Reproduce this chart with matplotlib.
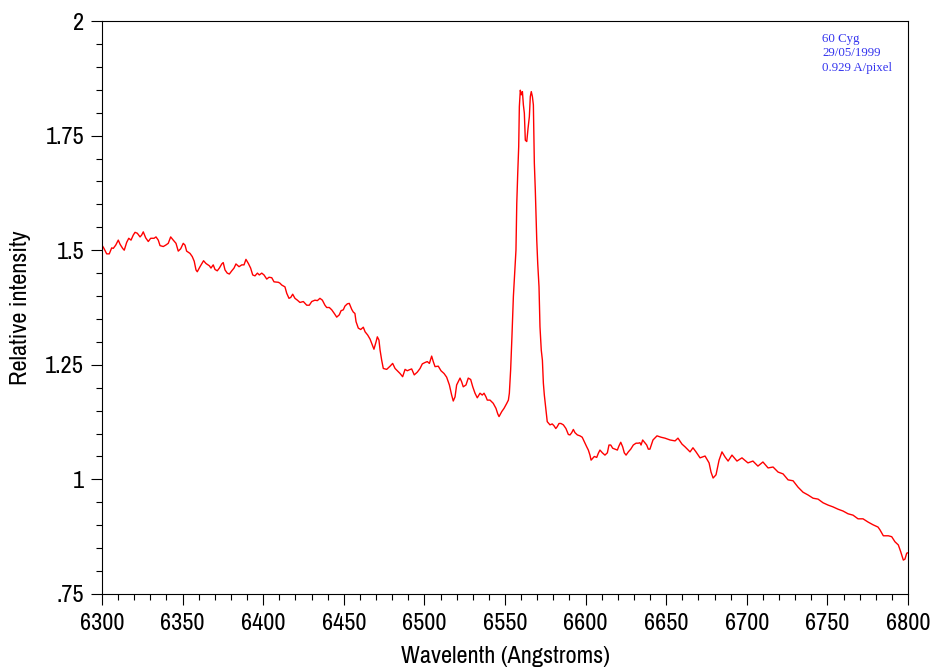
import matplotlib
matplotlib.use("Agg")
import matplotlib.pyplot as plt
from matplotlib import font_manager
from matplotlib.font_manager import FontProperties
from matplotlib.ticker import MultipleLocator

# narrow sans for the axis texts, if the system has one
narrow = None
for f in font_manager.fontManager.ttflist:
    if "Narrow" in f.name and f.style == "normal" and f.weight in (400, "normal"):
        narrow = f.fname
        break
if narrow is None:
    for f in font_manager.fontManager.ttflist:
        if f.stretch in ("condensed", "semi-condensed") and "Sans" in f.name \
                and f.style == "normal" and f.weight in (400, "normal"):
            narrow = f.fname
            break


def sans(size):
    if narrow:
        return FontProperties(fname=narrow, size=size)
    return FontProperties(family="Liberation Sans", size=size - 2)


# ---- spectrum (wavelength in A, relative intensity)
wavelength = [
    6300.0, 6301.2, 6302.9, 6304.5, 6306.0, 6307.0, 6308.5, 6310.1, 6311.2, 6312.8,
    6313.8, 6315.3, 6316.6, 6318.0, 6319.4, 6320.5, 6321.9, 6323.6, 6324.6, 6325.6,
    6327.1, 6328.7, 6330.2, 6332.3, 6333.5, 6334.9, 6336.0, 6338.0, 6339.5, 6341.1,
    6342.6, 6344.2, 6345.9, 6347.3, 6348.8, 6350.4, 6351.5, 6352.5, 6354.6, 6356.0,
    6357.2, 6358.3, 6359.1, 6360.8, 6363.0, 6364.5, 6366.6, 6367.6, 6369.0, 6370.1,
    6371.5, 6372.8, 6374.3, 6375.2, 6376.3, 6377.7, 6379.0, 6380.5, 6381.9, 6383.1,
    6385.0, 6386.7, 6388.1, 6389.3, 6390.8, 6392.2, 6393.5, 6394.9, 6396.4, 6397.6,
    6399.1, 6400.5, 6402.2, 6403.6, 6405.3, 6406.7, 6409.4, 6410.4, 6411.5, 6413.5,
    6414.6, 6416.0, 6417.1, 6418.3, 6419.7, 6421.2, 6422.8, 6424.9, 6427.0, 6428.6,
    6430.1, 6432.1, 6433.6, 6435.2, 6436.7, 6438.3, 6439.4, 6441.0, 6442.5, 6444.1,
    6445.6, 6447.2, 6448.3, 6449.7, 6450.7, 6452.2, 6453.4, 6454.9, 6455.9, 6456.9,
    6457.6, 6459.0, 6460.5, 6462.1, 6463.2, 6464.8, 6466.3, 6467.3, 6468.7, 6470.0,
    6470.8, 6471.8, 6472.5, 6473.5, 6474.5, 6476.6, 6478.7, 6480.3, 6481.8, 6484.9,
    6486.5, 6488.0, 6489.4, 6490.6, 6492.1, 6493.7, 6495.6, 6497.3, 6498.7, 6500.4,
    6501.8, 6503.1, 6504.5, 6505.5, 6506.6, 6508.6, 6510.3, 6512.2, 6513.8, 6515.5,
    6516.9, 6517.9, 6519.0, 6520.0, 6521.0, 6522.1, 6523.1, 6524.1, 6525.8, 6527.2,
    6528.7, 6530.0, 6531.4, 6532.8, 6534.5, 6535.9, 6537.0, 6538.2, 6539.0, 6540.7,
    6542.7, 6544.4, 6545.5, 6546.3, 6548.0, 6549.4, 6551.1, 6552.1, 6552.7, 6553.5,
    6554.3, 6555.2, 6556.0, 6556.8, 6557.3, 6557.9, 6558.5, 6558.9, 6559.5, 6560.1,
    6560.8, 6561.4, 6562.0, 6562.6, 6563.5, 6564.3, 6565.1, 6565.7, 6566.3, 6567.0,
    6567.6, 6568.2, 6568.8, 6569.7, 6570.3, 6571.1, 6571.7, 6572.5, 6573.2, 6573.8,
    6574.4, 6575.1, 6575.8, 6576.2, 6577.9, 6579.3, 6580.4, 6581.5, 6582.4, 6583.5,
    6584.7, 6586.2, 6587.8, 6589.3, 6590.3, 6591.4, 6592.4, 6593.4, 6594.9, 6596.5,
    6597.9, 6599.2, 6600.7, 6601.7, 6602.7, 6603.4, 6604.4, 6605.4, 6606.9, 6607.9,
    6608.9, 6610.4, 6612.0, 6613.5, 6614.5, 6615.6, 6616.8, 6618.2, 6619.7, 6620.7,
    6621.8, 6623.0, 6624.0, 6625.1, 6626.5, 6628.0, 6629.6, 6631.3, 6632.7, 6633.7,
    6634.4, 6635.4, 6636.8, 6637.9, 6638.9, 6639.9, 6641.8, 6644.3, 6646.8, 6649.2,
    6652.4, 6655.5, 6657.3, 6659.8, 6661.7, 6664.8, 6666.6, 6668.5, 6671.0, 6674.1,
    6676.6, 6677.8, 6679.1, 6680.9, 6682.8, 6684.6, 6686.5, 6688.4, 6690.8, 6693.9,
    6697.0, 6700.7, 6703.8, 6706.9, 6710.0, 6713.2, 6716.3, 6719.4, 6722.5, 6725.6,
    6728.7, 6731.8, 6734.9, 6738.0, 6741.1, 6744.2, 6747.3, 6750.4, 6753.5, 6756.6,
    6759.7, 6762.8, 6765.9, 6769.0, 6772.1, 6775.2, 6778.3, 6781.4, 6782.6, 6784.7,
    6787.8, 6789.9, 6791.9, 6794.0, 6795.5, 6797.1, 6798.1, 6799.2, 6800.0,
]
intensity = [
    1.511, 1.504, 1.492, 1.492, 1.505, 1.504, 1.511, 1.522, 1.513, 1.504,
    1.500, 1.517, 1.526, 1.522, 1.533, 1.539, 1.537, 1.529, 1.533, 1.540,
    1.527, 1.519, 1.526, 1.526, 1.529, 1.522, 1.510, 1.508, 1.511, 1.515,
    1.529, 1.522, 1.515, 1.498, 1.503, 1.515, 1.511, 1.498, 1.493, 1.486,
    1.476, 1.457, 1.453, 1.464, 1.477, 1.471, 1.466, 1.461, 1.468, 1.458,
    1.455, 1.461, 1.470, 1.473, 1.457, 1.450, 1.448, 1.455, 1.461, 1.470,
    1.464, 1.468, 1.468, 1.480, 1.471, 1.461, 1.446, 1.444, 1.450, 1.446,
    1.450, 1.446, 1.437, 1.441, 1.440, 1.431, 1.430, 1.428, 1.424, 1.420,
    1.406, 1.395, 1.397, 1.404, 1.395, 1.391, 1.386, 1.388, 1.380, 1.380,
    1.388, 1.391, 1.390, 1.395, 1.391, 1.380, 1.375, 1.375, 1.370, 1.362,
    1.354, 1.359, 1.368, 1.370, 1.378, 1.383, 1.384, 1.371, 1.365, 1.362,
    1.344, 1.330, 1.327, 1.332, 1.322, 1.315, 1.306, 1.297, 1.284, 1.300,
    1.311, 1.304, 1.282, 1.260, 1.242, 1.240, 1.247, 1.253, 1.242, 1.231,
    1.224, 1.240, 1.237, 1.239, 1.241, 1.228, 1.234, 1.242, 1.252, 1.255,
    1.257, 1.253, 1.269, 1.257, 1.246, 1.247, 1.237, 1.231, 1.223, 1.206,
    1.184, 1.171, 1.180, 1.206, 1.213, 1.221, 1.213, 1.202, 1.206, 1.221,
    1.218, 1.202, 1.188, 1.178, 1.188, 1.184, 1.188, 1.180, 1.173, 1.173,
    1.166, 1.155, 1.143, 1.137, 1.148, 1.155, 1.166, 1.173, 1.188, 1.239,
    1.311, 1.399, 1.450, 1.500, 1.602, 1.668, 1.726, 1.813, 1.849, 1.839,
    1.846, 1.817, 1.799, 1.740, 1.737, 1.766, 1.791, 1.835, 1.846, 1.835,
    1.817, 1.690, 1.631, 1.522, 1.471, 1.420, 1.333, 1.282, 1.260, 1.210,
    1.184, 1.162, 1.141, 1.126, 1.119, 1.121, 1.117, 1.111, 1.115, 1.122,
    1.122, 1.119, 1.111, 1.098, 1.097, 1.102, 1.109, 1.102, 1.097, 1.095,
    1.092, 1.082, 1.071, 1.064, 1.053, 1.042, 1.046, 1.050, 1.048, 1.057,
    1.064, 1.058, 1.053, 1.058, 1.075, 1.075, 1.068, 1.066, 1.064, 1.073,
    1.081, 1.071, 1.058, 1.053, 1.060, 1.066, 1.075, 1.079, 1.079, 1.080,
    1.075, 1.086, 1.080, 1.075, 1.066, 1.066, 1.086, 1.095, 1.092, 1.090,
    1.086, 1.084, 1.090, 1.077, 1.071, 1.060, 1.069, 1.060, 1.047, 1.051,
    1.036, 1.016, 1.003, 1.010, 1.042, 1.060, 1.049, 1.040, 1.053, 1.040,
    1.047, 1.036, 1.040, 1.029, 1.038, 1.025, 1.027, 1.016, 1.012, 0.999,
    0.997, 0.983, 0.972, 0.966, 0.959, 0.957, 0.949, 0.944, 0.940, 0.935,
    0.931, 0.925, 0.922, 0.914, 0.914, 0.907, 0.901, 0.896, 0.890, 0.877,
    0.877, 0.875, 0.864, 0.857, 0.842, 0.824, 0.826, 0.839, 0.840,
]

y_ticks = [0.75, 1.0, 1.25, 1.5, 1.75, 2.0]
y_labels = [".75", "1", "1.25", "1.5", "1.75", "2"]
x_ticks = [6300, 6350, 6400, 6450, 6500, 6550, 6600, 6650, 6700, 6750, 6800]
info_lines = ["60 Cyg", "29/05/1999", "0.929 A/pixel"]

fig = plt.figure(figsize=(9.38, 6.72), dpi=100)
fig.patch.set_facecolor("white")
ax = fig.add_axes([102 / 938, 1 - 594 / 672, 806 / 938, 573 / 672])

ax.plot(wavelength, intensity, color="#ff0000", lw=1.0)

ax.set_xlim(6300, 6800)
ax.set_ylim(0.75, 2.0)
ax.set_xticks(x_ticks)
ax.set_xticklabels([str(t) for t in x_ticks])
ax.set_yticks(y_ticks)
ax.set_yticklabels(y_labels)
ax.xaxis.set_minor_locator(MultipleLocator(10))
ax.yaxis.set_minor_locator(MultipleLocator(0.05))

ax.tick_params(which="major", direction="out", length=8, width=0.8, color="black")
ax.tick_params(axis="x", which="major", pad=6)
ax.tick_params(axis="y", which="major", pad=5)
ax.tick_params(which="minor", direction="out", length=4, width=0.8, color="black")
for lab in ax.get_xticklabels() + ax.get_yticklabels():
    lab.set_fontproperties(sans(17.5))
for sp in ax.spines.values():
    sp.set_linewidth(0.8)
    sp.set_color("black")

ax.set_xlabel("Wavelenth (Angstroms)", fontproperties=sans(17.5), va="top")
ax.xaxis.set_label_coords(0.5, -0.09)
ax.set_ylabel("Relative intensity", fontproperties=sans(17.5))
ax.yaxis.set_label_coords(-0.088, 0.5)

# note in the upper right corner, placed in pixels from the top-left
for i, line in enumerate(info_lines):
    fig.text(822 / 938, 1 - (39 + i * 14.5) / 672, line, fontsize=9.3,
             family="Liberation Serif", color="#3434ee", va="center", ha="left")

fig.savefig("out.png", dpi=100, facecolor="white")
